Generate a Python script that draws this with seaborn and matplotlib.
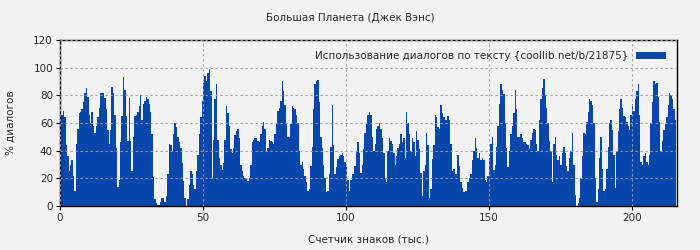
import numpy as np
import pandas as pd
import matplotlib
matplotlib.use("Agg")
import matplotlib.pyplot as plt
import seaborn as sns

title = "Большая Планета (Джек Вэнс)"
xlabel = "Счетчик знаков (тыс.)"
ylabel = "% диалогов"
series_label = "Использование диалогов по тексту {coollib.net/b/21875}"
step_k = 0.5  # thousand characters per sample

dialog_pct = [
    60, 66, 69, 64, 44, 36, 25, 30, 33, 22, 11, 45, 56, 67, 68, 70, 75, 82, 85, 79,
    66, 60, 68, 58, 53, 58, 64, 71, 82, 82, 82, 78, 70, 55, 45, 55, 86, 82, 66, 42,
    14, 19, 46, 65, 93, 84, 65, 47, 78, 47, 25, 50, 65, 66, 68, 72, 80, 62, 74, 76,
    79, 77, 74, 68, 52, 21, 5, 2, 1, 1, 3, 6,
    6, 3, 7, 23, 45, 44, 40, 52, 60, 57, 50, 46, 42, 31, 18, 6, 0, 5, 15, 25,
    23, 15, 12, 25, 37, 52, 64, 76, 89, 94, 90, 96, 99, 83, 20, 48, 77, 88, 48, 35,
    30, 26, 31, 48, 72, 67, 58, 41, 38, 42, 51, 54, 56, 49, 30, 25, 22, 20, 20, 18,
    20, 30, 46, 48, 49, 49, 47, 46, 52, 58, 61, 56, 40,
    42, 48, 47, 46, 45, 52, 60, 69, 71, 76, 90, 83, 73, 60, 50, 50, 59, 72, 71, 70,
    66, 60, 40, 30, 32, 27, 22, 17, 11, 12, 29, 43, 70, 88, 90, 91, 75, 50, 42, 30,
    20, 10, 11, 23, 43, 73, 44, 23, 28, 34, 36, 37, 38, 36, 32, 28, 19, 11, 19, 23,
    23, 29, 40, 46, 38, 24, 30, 41, 53, 59, 66, 68, 66,
    50, 40, 45, 56, 58, 60, 56, 49, 38, 20, 17, 40, 49, 47, 45, 38, 30, 36, 42, 45,
    52, 46, 49, 35, 68, 60, 52, 40, 49, 46, 36, 54, 48, 41, 24, 7, 25, 30, 53, 44,
    6, 12, 34, 44, 66, 64, 57, 56, 73, 67, 64, 62, 62, 65, 62, 45, 25, 27, 23, 23,
    37, 29, 17, 13, 10, 11, 11, 17, 20, 23, 33, 40, 49,
    42, 35, 38, 33, 35, 33, 19, 17, 22, 35, 45, 50, 26, 30, 43, 58, 74, 88, 84, 81,
    60, 42, 28, 40, 52, 58, 67, 84, 70, 50, 50, 52, 49, 46, 46, 45, 44, 41, 48, 53,
    56, 55, 45, 40, 62, 77, 85, 92, 80, 71, 60, 47, 40, 17, 45, 50, 37, 33, 36, 30,
    38, 43, 38, 29, 25, 35, 40, 53, 30, 8, 0, 2,
    6, 20, 36, 53, 52, 61, 68, 77, 76, 73, 60, 20, 3, 12, 35, 50, 27, 11, 12, 27,
    43, 60, 62, 55, 37, 13, 40, 54, 70, 77, 71, 65, 64, 61, 58, 55, 66, 74, 69, 77,
    83, 88, 66, 32, 30, 36, 38, 32, 30, 37, 60, 75, 90, 88, 89, 79, 61, 40, 47, 55,
    59, 64, 73, 82, 80, 77, 70, 62,
]

chars_k = np.arange(len(dialog_pct)) * step_k + step_k / 2
df = pd.DataFrame({"chars": chars_k, "pct": dialog_pct})

bg = "#f2f2f2"
bar_color = "#0747ab"

sns.set_theme(style="white")
plt.rcParams["font.family"] = ["DejaVu Sans"]

fig = plt.figure(figsize=(7, 2.5), dpi=100, facecolor=bg)
ax = fig.add_axes([60 / 700, 44 / 250, 617 / 700, 166 / 250])
ax.set_facecolor(bg)

sns.histplot(
    data=df, x="chars", weights="pct",
    binwidth=step_k, binrange=(0, len(dialog_pct) * step_k),
    element="bars", fill=True, color=bar_color, alpha=1.0,
    linewidth=0, ax=ax, label=series_label,
)

ax.set_xlim(0, len(dialog_pct) * step_k + 0.3)
ax.set_ylim(0, 120)
ax.set_xticks([0, 50, 100, 150, 200])
ax.set_yticks([0, 20, 40, 60, 80, 100, 120])
ax.tick_params(axis="both", labelsize=7.5, length=3, width=0.8, color="black",
               direction="out", bottom=True, left=True, pad=2)
for s in ax.spines.values():
    s.set_color("black")
    s.set_linewidth(1.0)

ax.grid(True, axis="both", color="#a0a0a0", linestyle=(0, (2, 2.5)), linewidth=0.8)
ax.set_axisbelow(False)
for gl in ax.get_xgridlines() + ax.get_ygridlines():
    gl.set_zorder(0.5)
for p in ax.patches:
    p.set_zorder(1)

ax.set_xlabel(xlabel, fontsize=7.5, labelpad=8)
ax.set_ylabel(ylabel, fontsize=7.5, labelpad=13)
fig.text(0.5, 1 - 18 / 250, title, ha="center", va="center", fontsize=7.5)

leg = ax.legend(loc="upper right", frameon=False, markerfirst=False, fontsize=7.5,
                handlelength=2.8, handleheight=0.6, borderaxespad=0.7,
                handletextpad=0.8)

fig.savefig("out.png", dpi=100, facecolor=bg)
